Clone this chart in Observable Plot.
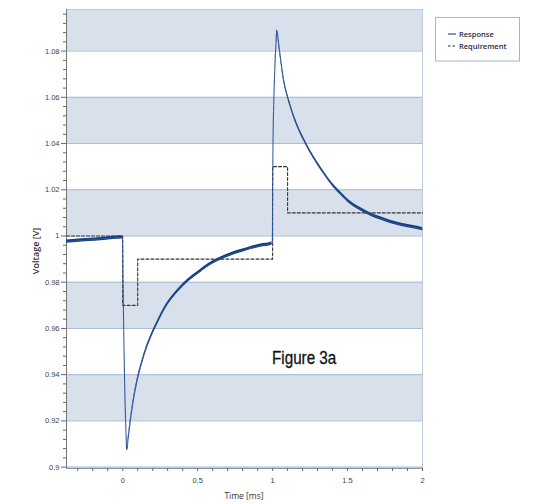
<!DOCTYPE html>
<html>
<head>
<meta charset="utf-8">
<script src="https://cdn.jsdelivr.net/npm/d3@7"></script>
<script src="https://cdn.jsdelivr.net/npm/@observablehq/plot@0.6"></script>
<style>
  html, body { margin: 0; padding: 0; background: white; }
  #chart { position: relative; width: 548px; height: 504px; }
</style>
</head>
<body>
<div id="chart"></div>
<script>
// ---- data ----
const xDomain = [-0.375, 2];
const yDomain = [0.8994, 1.098];

const majorX = [0, 0.5, 1, 1.5, 2];
const minorX = [-0.3, -0.2, -0.1, 0.1, 0.2, 0.3, 0.4, 0.6, 0.7, 0.8, 0.9, 1.1, 1.2, 1.3, 1.4, 1.6, 1.7, 1.8, 1.9];
const majorY = [0.9, 0.92, 0.94, 0.96, 0.98, 1, 1.02, 1.04, 1.06, 1.08];
const minorY = [0.904, 0.908, 0.912, 0.916, 0.924, 0.928, 0.932, 0.936, 0.944, 0.948, 0.952, 0.956,
                0.964, 0.968, 0.972, 0.976, 0.984, 0.988, 0.992, 0.996, 1.004, 1.008, 1.012, 1.016,
                1.024, 1.028, 1.032, 1.036, 1.044, 1.048, 1.052, 1.056, 1.064, 1.068, 1.072, 1.076,
                1.084, 1.088, 1.092, 1.096];

const bandLo = [0.88, 0.92, 0.96, 1.00, 1.04, 1.08];
const bandHi = [0.90, 0.94, 0.98, 1.02, 1.06, 1.10];

const respT = [-0.375, -0.25, -0.125, -0.002, 0.004, 0.012, 0.02, 0.028, 0.036, 0.051, 0.074, 0.095,
               0.118, 0.15, 0.185, 0.24, 0.296, 0.35, 0.407, 0.46, 0.518, 0.57, 0.629, 0.68, 0.74,
               0.8, 0.851, 0.92, 0.998, 1.002, 1.008, 1.013, 1.022, 1.029, 1.04, 1.051, 1.073, 1.096,
               1.12, 1.14, 1.17, 1.207, 1.25, 1.296, 1.35, 1.407, 1.46, 1.518, 1.58, 1.651, 1.72,
               1.785, 1.86, 1.93, 2.0];
const respV = [0.9976, 0.9982, 0.9988, 0.9994, 0.972, 0.940, 0.919, 0.9077, 0.912, 0.920, 0.930, 0.937,
               0.943, 0.950, 0.956, 0.9637, 0.9704, 0.975, 0.979, 0.982, 0.9848, 0.9873, 0.9895, 0.991, 0.9925,
               0.9937, 0.9947, 0.9958, 0.9968, 1.035, 1.058, 1.069, 1.0822, 1.0887, 1.0836, 1.0779, 1.0678, 1.0613,
               1.056, 1.052, 1.047, 1.0419, 1.0366, 1.0317, 1.0265, 1.0216, 1.018, 1.0144, 1.0118, 1.0094, 1.0076,
               1.0061, 1.0048, 1.0039, 1.003];
const ripple = 0.0007;

const reqT = [-0.375, 0, 0, 0.1, 0.1, 1.0, 1.0, 1.1, 1.1, 2.0];
const reqV = [1.0, 1.0, 0.97, 0.97, 0.99, 0.99, 1.03, 1.03, 1.01, 1.01];

const seriesNames = ["Response", "Requirement"];
const annotation = "Figure 3a";
const xLabel = "Time [ms]";
const yLabel = "Voltage [V]";

// ---- tables ----
const bands = bandLo.map((lo, i) => ({lo, hi: bandHi[i]}));
const resp = respT.map((t, i) => ({t, v: respV[i]}));
const req = reqT.map((t, i) => ({t, v: reqV[i]}));
const fmt = d => String(+d.toFixed(2));

const tickFont = "'Liberation Sans Narrow', 'Liberation Sans', sans-serif";

const plot = Plot.plot({
  width: 548,
  height: 504,
  marginLeft: 66,
  marginRight: 126,
  marginTop: 9,
  marginBottom: 36,
  x: {domain: xDomain},
  y: {domain: yDomain},
  style: {fontFamily: tickFont, fontSize: "7.5px", color: "#444", background: "white", overflow: "visible"},
  marks: [
    Plot.rect(bands, {y1: "lo", y2: "hi", fill: "#d7e0eb", clip: true}),
    Plot.ruleY(majorY, {stroke: "#a8bad0", strokeWidth: 1}),
    Plot.frame({stroke: "#bccadb"}),
    Plot.ruleX([xDomain[0]], {stroke: "#777"}),
    Plot.ruleY([yDomain[0]], {stroke: "#8a98aa"}),
    Plot.axisY({ticks: majorY, tickSize: 5, tickPadding: 2, tickFormat: fmt, label: null, stroke: "#666"}),
    Plot.axisY({ticks: minorY, tickSize: 3, tickFormat: () => "", label: null, stroke: "#666"}),
    Plot.axisX({ticks: majorX, tickSize: 3, tickPadding: 6, tickFormat: fmt, label: null, stroke: "#666"}),
    Plot.axisX({ticks: minorX, tickSize: 3, tickFormat: () => "", label: null, stroke: "#666"}),
    Plot.line(req, {x: "t", y: "v", stroke: "#333", strokeWidth: 1.1, strokeDasharray: "3,2"}),
    Plot.areaY(resp, {x: "t", y1: d => d.v - ripple, y2: d => d.v + ripple, fill: "#173c80", curve: "monotone-x"}),
    Plot.line(resp, {x: "t", y: "v", stroke: "#2a5398", strokeWidth: 1, curve: "monotone-x"})
  ]
});

document.getElementById("chart").appendChild(plot);

// ---- labels, annotation, legend ----
const svg = d3.select(plot);
svg.append("text")
  .attr("transform", "translate(39,251) rotate(-90)")
  .attr("text-anchor", "middle")
  .attr("font-family", "'Open Sans', sans-serif")
  .attr("font-size", 9)
  .attr("font-weight", 600)
  .attr("fill", "#333")
  .text(yLabel);

svg.append("text")
  .attr("x", 244).attr("y", 499)
  .attr("text-anchor", "middle")
  .attr("font-family", "'Open Sans', sans-serif")
  .attr("font-size", 8.5)
  .attr("fill", "#333")
  .text(xLabel);

svg.append("text")
  .attr("transform", "translate(272,363.5) scale(0.87,1)")
  .attr("text-anchor", "start")
  .attr("font-family", "'Liberation Sans', sans-serif")
  .attr("font-size", 17.5)
  .attr("fill", "#111")
  .attr("stroke", "#111").attr("stroke-width", 0.3)
  .text(annotation);

const lg = svg.append("g");
lg.append("rect")
  .attr("x", 435.5).attr("y", 17.5).attr("width", 84).attr("height", 43.5)
  .attr("fill", "white").attr("stroke", "#aab4c2");
lg.append("line")
  .attr("x1", 448).attr("x2", 456).attr("y1", 34).attr("y2", 34)
  .attr("stroke", "#2a5398").attr("stroke-width", 1.2);
lg.append("line")
  .attr("x1", 448).attr("x2", 456).attr("y1", 46).attr("y2", 46)
  .attr("stroke", "#222").attr("stroke-width", 1.2).attr("stroke-dasharray", "2.5,2");
seriesNames.forEach((name, i) => {
  lg.append("text")
    .attr("x", 459).attr("y", 34 + i * 12)
    .attr("dy", "0.35em")
    .attr("text-anchor", "start")
    .attr("font-family", "'Open Sans', sans-serif")
    .attr("font-size", 7.5)
    .attr("font-weight", 600)
    .attr("fill", "#1c2b4a")
    .text(name);
});
</script>
</body>
</html>
